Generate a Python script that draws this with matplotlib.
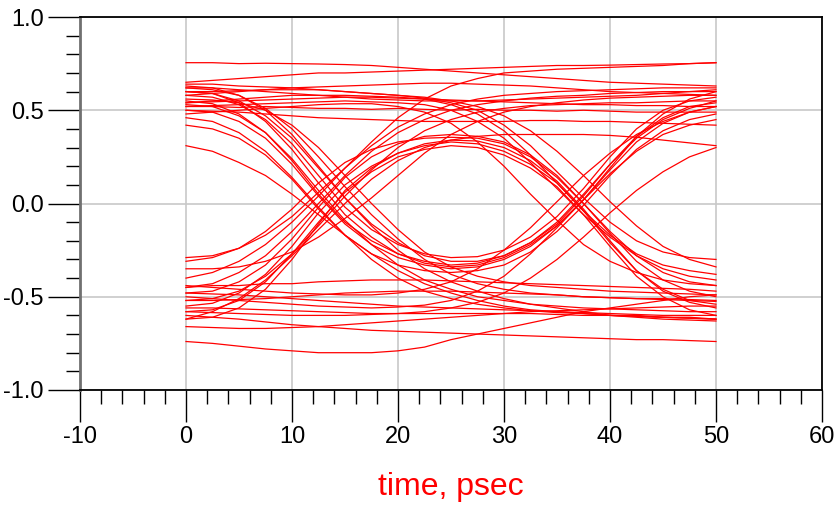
import matplotlib
matplotlib.use("Agg")
import matplotlib.pyplot as plt
from matplotlib.ticker import MultipleLocator

# sample times (psec)
t_ps = [0, 2.5, 5, 7.5, 10, 12.5, 15, 17.5, 20, 22.5, 25,
        27.5, 30, 32.5, 35, 37.5, 40, 42.5, 45, 47.5, 50]

high_flat = [
    [0.755, 0.755, 0.75, 0.752, 0.75, 0.748, 0.745, 0.74, 0.73, 0.72, 0.71, 0.70, 0.69, 0.68, 0.67, 0.66, 0.65, 0.645, 0.64, 0.635, 0.63],
    [0.65, 0.66, 0.67, 0.68, 0.69, 0.70, 0.70, 0.705, 0.71, 0.715, 0.72, 0.725, 0.73, 0.735, 0.74, 0.74, 0.742, 0.745, 0.748, 0.75, 0.755],
    [0.58, 0.59, 0.60, 0.61, 0.62, 0.625, 0.63, 0.635, 0.64, 0.645, 0.645, 0.64, 0.635, 0.63, 0.62, 0.61, 0.60, 0.595, 0.59, 0.585, 0.58],
    [0.52, 0.52, 0.515, 0.52, 0.515, 0.51, 0.51, 0.505, 0.51, 0.505, 0.50, 0.505, 0.50, 0.50, 0.495, 0.50, 0.495, 0.49, 0.49, 0.49, 0.49],
    [0.50, 0.495, 0.49, 0.48, 0.47, 0.46, 0.455, 0.45, 0.445, 0.44, 0.44, 0.44, 0.44, 0.445, 0.445, 0.44, 0.44, 0.435, 0.43, 0.425, 0.42],
    [0.62, 0.62, 0.61, 0.60, 0.59, 0.58, 0.57, 0.56, 0.555, 0.55, 0.55, 0.55, 0.555, 0.56, 0.565, 0.57, 0.575, 0.58, 0.59, 0.60, 0.61],
    [0.54, 0.545, 0.55, 0.555, 0.56, 0.565, 0.57, 0.57, 0.565, 0.56, 0.555, 0.55, 0.545, 0.54, 0.535, 0.53, 0.53, 0.525, 0.525, 0.52, 0.52],
]
high_fall_late = [
    [0.54, 0.55, 0.56, 0.57, 0.58, 0.58, 0.58, 0.575, 0.57, 0.56, 0.53, 0.48, 0.39, 0.26, 0.11, -0.04, -0.17, -0.27, -0.33, -0.36, -0.38],
    [0.60, 0.60, 0.605, 0.61, 0.61, 0.61, 0.60, 0.59, 0.58, 0.565, 0.54, 0.50, 0.42, 0.31, 0.17, 0.03, -0.10, -0.20, -0.26, -0.29, -0.30],
    [0.52, 0.525, 0.53, 0.535, 0.54, 0.545, 0.55, 0.545, 0.54, 0.53, 0.50, 0.44, 0.35, 0.22, 0.08, -0.06, -0.18, -0.28, -0.35, -0.39, -0.41],
    [0.48, 0.49, 0.50, 0.51, 0.52, 0.53, 0.535, 0.535, 0.52, 0.49, 0.43, 0.33, 0.20, 0.05, -0.09, -0.22, -0.31, -0.37, -0.41, -0.43, -0.44],
    [0.64, 0.64, 0.63, 0.625, 0.62, 0.61, 0.60, 0.59, 0.58, 0.57, 0.55, 0.52, 0.47, 0.39, 0.28, 0.15, 0.01, -0.12, -0.23, -0.30, -0.34],
]
high_dip = [
    [0.55, 0.535, 0.48, 0.38, 0.23, 0.05, -0.10, -0.20, -0.27, -0.31, -0.33, -0.32, -0.28, -0.21, -0.11, 0.04, 0.21, 0.36, 0.46, 0.52, 0.54],
    [0.50, 0.49, 0.44, 0.35, 0.21, 0.04, -0.11, -0.22, -0.29, -0.33, -0.35, -0.34, -0.30, -0.23, -0.12, 0.02, 0.18, 0.33, 0.43, 0.49, 0.52],
    [0.58, 0.57, 0.53, 0.45, 0.32, 0.15, -0.02, -0.14, -0.22, -0.27, -0.29, -0.285, -0.25, -0.18, -0.07, 0.08, 0.25, 0.40, 0.50, 0.55, 0.57],
    [0.42, 0.40, 0.35, 0.26, 0.13, -0.03, -0.17, -0.27, -0.33, -0.36, -0.37, -0.36, -0.33, -0.26, -0.15, -0.01, 0.15, 0.29, 0.39, 0.45, 0.48],
    [0.63, 0.62, 0.58, 0.50, 0.37, 0.20, 0.03, -0.11, -0.21, -0.28, -0.31, -0.31, -0.28, -0.21, -0.10, 0.05, 0.21, 0.35, 0.45, 0.51, 0.55],
    [0.60, 0.59, 0.54, 0.44, 0.29, 0.11, -0.06, -0.18, -0.27, -0.32, -0.34, -0.33, -0.29, -0.22, -0.12, 0.02, 0.19, 0.36, 0.48, 0.56, 0.60],
]
high_fall = [
    [0.53, 0.52, 0.47, 0.38, 0.24, 0.07, -0.09, -0.22, -0.33, -0.41, -0.46, -0.50, -0.52, -0.54, -0.55, -0.56, -0.565, -0.57, -0.575, -0.58, -0.58],
    [0.56, 0.555, 0.54, 0.50, 0.42, 0.30, 0.15, 0.00, -0.14, -0.26, -0.34, -0.39, -0.42, -0.44, -0.45, -0.46, -0.47, -0.475, -0.48, -0.485, -0.49],
    [0.31, 0.28, 0.22, 0.15, 0.05, -0.06, -0.17, -0.27, -0.36, -0.43, -0.48, -0.52, -0.55, -0.57, -0.58, -0.59, -0.60, -0.60, -0.61, -0.61, -0.62],
    [0.60, 0.59, 0.55, 0.47, 0.35, 0.19, 0.03, -0.12, -0.25, -0.35, -0.42, -0.47, -0.51, -0.54, -0.56, -0.58, -0.60, -0.61, -0.62, -0.625, -0.63],
    [0.46, 0.44, 0.38, 0.28, 0.14, -0.02, -0.17, -0.30, -0.40, -0.47, -0.51, -0.54, -0.56, -0.575, -0.585, -0.59, -0.60, -0.605, -0.61, -0.615, -0.62],
    [0.62, 0.61, 0.58, 0.51, 0.40, 0.25, 0.09, -0.06, -0.19, -0.30, -0.38, -0.43, -0.46, -0.48, -0.49, -0.50, -0.505, -0.51, -0.51, -0.515, -0.52],
]
low_flat = [
    [-0.74, -0.75, -0.765, -0.78, -0.79, -0.80, -0.80, -0.80, -0.79, -0.77, -0.73, -0.70, -0.67, -0.64, -0.61, -0.58, -0.56, -0.54, -0.52, -0.50, -0.49],
    [-0.60, -0.61, -0.62, -0.635, -0.65, -0.66, -0.67, -0.68, -0.685, -0.69, -0.695, -0.70, -0.705, -0.71, -0.715, -0.72, -0.725, -0.73, -0.73, -0.735, -0.74],
    [-0.56, -0.56, -0.565, -0.57, -0.575, -0.58, -0.585, -0.59, -0.59, -0.59, -0.59, -0.59, -0.59, -0.59, -0.595, -0.60, -0.60, -0.605, -0.61, -0.615, -0.62],
    [-0.45, -0.44, -0.44, -0.43, -0.43, -0.42, -0.415, -0.41, -0.41, -0.41, -0.415, -0.42, -0.425, -0.43, -0.435, -0.44, -0.445, -0.45, -0.455, -0.46, -0.47],
    [-0.52, -0.52, -0.515, -0.51, -0.50, -0.49, -0.48, -0.475, -0.47, -0.47, -0.47, -0.475, -0.48, -0.485, -0.49, -0.50, -0.505, -0.51, -0.515, -0.52, -0.525],
    [-0.66, -0.665, -0.67, -0.67, -0.665, -0.66, -0.65, -0.64, -0.63, -0.62, -0.61, -0.60, -0.59, -0.58, -0.575, -0.57, -0.565, -0.56, -0.555, -0.55, -0.55],
    [-0.48, -0.485, -0.49, -0.50, -0.51, -0.52, -0.53, -0.54, -0.55, -0.555, -0.56, -0.565, -0.57, -0.575, -0.58, -0.585, -0.59, -0.595, -0.60, -0.60, -0.60],
]
low_rise_late = [
    [-0.50, -0.51, -0.52, -0.53, -0.54, -0.55, -0.555, -0.56, -0.555, -0.545, -0.52, -0.47, -0.39, -0.27, -0.13, 0.02, 0.16, 0.28, 0.37, 0.42, 0.45],
    [-0.58, -0.585, -0.59, -0.595, -0.60, -0.60, -0.60, -0.595, -0.59, -0.58, -0.56, -0.53, -0.48, -0.40, -0.30, -0.18, -0.05, 0.07, 0.17, 0.25, 0.30],
    [-0.44, -0.45, -0.46, -0.47, -0.48, -0.485, -0.49, -0.49, -0.48, -0.46, -0.42, -0.35, -0.25, -0.13, 0.01, 0.15, 0.27, 0.37, 0.44, 0.49, 0.52],
]
low_bump = [
    [-0.55, -0.535, -0.48, -0.38, -0.23, -0.05, 0.10, 0.20, 0.27, 0.31, 0.33, 0.32, 0.28, 0.21, 0.11, -0.04, -0.21, -0.36, -0.46, -0.52, -0.54],
    [-0.48, -0.47, -0.42, -0.33, -0.19, -0.02, 0.14, 0.25, 0.32, 0.36, 0.37, 0.36, 0.33, 0.26, 0.15, 0.00, -0.16, -0.31, -0.41, -0.47, -0.50],
    [-0.62, -0.61, -0.56, -0.46, -0.30, -0.11, 0.07, 0.19, 0.27, 0.32, 0.34, 0.335, 0.30, 0.23, 0.12, -0.03, -0.20, -0.36, -0.47, -0.53, -0.56],
    [-0.31, -0.29, -0.24, -0.15, -0.03, 0.11, 0.22, 0.29, 0.33, 0.35, 0.355, 0.35, 0.32, 0.25, 0.14, 0.00, -0.15, -0.28, -0.37, -0.42, -0.44],
    [-0.58, -0.57, -0.52, -0.42, -0.27, -0.10, 0.06, 0.17, 0.25, 0.29, 0.31, 0.30, 0.26, 0.19, 0.09, -0.06, -0.23, -0.39, -0.50, -0.57, -0.60],
]
low_rise = [
    [-0.29, -0.28, -0.24, -0.17, -0.07, 0.06, 0.19, 0.31, 0.41, 0.48, 0.53, 0.56, 0.58, 0.59, 0.60, 0.605, 0.61, 0.615, 0.62, 0.62, 0.62],
    [-0.45, -0.43, -0.37, -0.28, -0.15, 0.00, 0.15, 0.28, 0.38, 0.45, 0.50, 0.53, 0.55, 0.565, 0.575, 0.58, 0.59, 0.595, 0.60, 0.60, 0.60],
    [-0.40, -0.37, -0.31, -0.22, -0.10, 0.04, 0.19, 0.33, 0.46, 0.56, 0.63, 0.67, 0.70, 0.71, 0.72, 0.725, 0.73, 0.735, 0.74, 0.75, 0.755],
    [-0.52, -0.51, -0.47, -0.39, -0.27, -0.12, 0.04, 0.18, 0.30, 0.39, 0.45, 0.49, 0.51, 0.525, 0.53, 0.535, 0.54, 0.54, 0.545, 0.55, 0.55],
    [-0.35, -0.35, -0.34, -0.31, -0.26, -0.18, -0.08, 0.03, 0.15, 0.27, 0.37, 0.44, 0.49, 0.52, 0.54, 0.555, 0.565, 0.57, 0.575, 0.58, 0.58],
    [-0.62, -0.58, -0.51, -0.41, -0.28, -0.14, 0.00, 0.13, 0.23, 0.30, 0.34, 0.36, 0.37, 0.37, 0.37, 0.37, 0.365, 0.355, 0.34, 0.325, 0.31],
]

plt.rcParams['font.family'] = ['Liberation Sans', 'DejaVu Sans']
plt.rcParams['axes.unicode_minus'] = False

fig = plt.figure(figsize=(8.39, 5.07), dpi=100)
ax = fig.add_axes([80 / 839, 1 - 390 / 507, 742 / 839, 373 / 507])

for group in [high_flat, high_fall_late, high_dip, high_fall,
              low_flat, low_rise_late, low_bump, low_rise]:
    for v in group:
        ax.plot(t_ps, v, color='#ff0000', lw=0.9, solid_joinstyle='round')

ax.set_xlim(-10, 60)
ax.set_ylim(-1.0, 1.0)
ax.xaxis.set_major_locator(MultipleLocator(10))
ax.xaxis.set_minor_locator(MultipleLocator(2))
ax.yaxis.set_major_locator(MultipleLocator(0.5))
ax.yaxis.set_minor_locator(MultipleLocator(0.1))
ax.yaxis.set_major_formatter(plt.FuncFormatter(lambda v, p: f"{v:.1f}"))

ax.grid(True, which='major', color='#c8c8c8', lw=1.2)
ax.set_axisbelow(True)

ax.tick_params(which='major', direction='out', length=23, width=1.0,
               labelsize=17, pad=3, color='black')
ax.tick_params(which='minor', direction='out', length=10, width=1.0,
               color='black')
ax.tick_params(top=False, right=False)

ax.spines['left'].set_color('#707070')
ax.spines['left'].set_linewidth(2.0)
for s in ['top', 'right', 'bottom']:
    ax.spines[s].set_color('black')
    ax.spines[s].set_linewidth(1.3)

ax.set_xlabel('time, psec', color='#ff0000', fontsize=23, labelpad=17)

fig.savefig('out.png', dpi=100)
